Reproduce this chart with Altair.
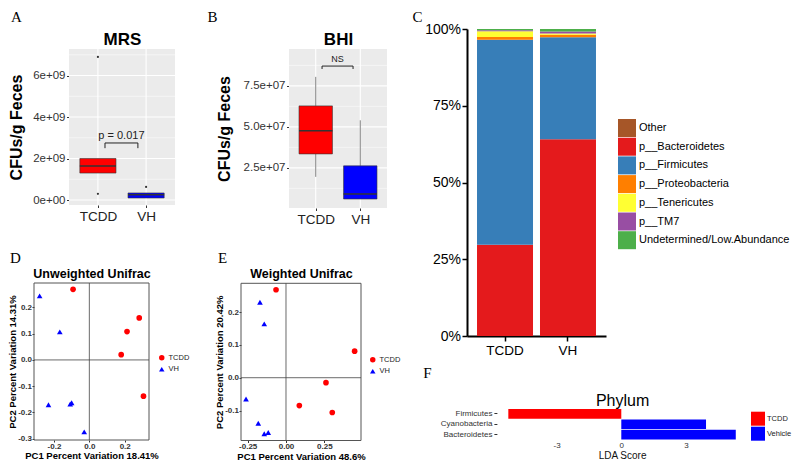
import altair as alt
import pandas as pd

W, H = 784, 452

# ---------------- data ----------------
groups = ["TCDD", "VH"]
group_colors = ["#FF0000", "#0000FF"]

# A: MRS plate counts (CFUs/g feces)
mrs_q1 = [1.30e9, 0.10e9]
mrs_median = [1.64e9, 0.25e9]
mrs_q3 = [2.00e9, 0.34e9]
mrs_whisker_lo = [1.30e9, 0.10e9]
mrs_whisker_hi = [2.00e9, 0.34e9]
mrs_outlier_group = ["TCDD", "TCDD", "VH"]
mrs_outlier_value = [6.90e9, 0.30e9, 0.63e9]
mrs_domain = [-0.24e9, 7.28e9]
mrs_ticks = [0, 2e9, 4e9, 6e9]
mrs_minor = [1e9, 3e9, 5e9, 7e9]
mrs_pvalue = "p =  0.017"
mrs_bracket_x = [1.147, 1.83]
mrs_bracket_y = [2.75e9, 2.5e9]
mrs_label_y = 3.08e9

# B: BHI plate counts
bhi_q1 = [3.35e7, 0.60e7]
bhi_median = [4.76e7, 0.90e7]
bhi_q3 = [6.28e7, 2.62e7]
bhi_whisker_lo = [1.95e7, 0.60e7]
bhi_whisker_hi = [8.05e7, 5.40e7]
bhi_outlier_group = []
bhi_outlier_value = []
bhi_domain = [0.05e7, 9.75e7]
bhi_ticks = [2.5e7, 5.0e7, 7.5e7]
bhi_minor = [1.25e7, 3.75e7, 6.25e7, 8.75e7]
bhi_pvalue = "NS"
bhi_bracket_x = [1.142, 1.838]
bhi_bracket_y = [8.71e7, 8.53e7]
bhi_label_y = 9.14e7

# C: relative abundance (%)
taxa = ["Other", "p__Bacteroidetes", "p__Firmicutes", "p__Proteobacteria",
        "p__Tenericutes", "p__TM7", "Undetermined/Low.Abundance"]
taxa_colors = ["#A65628", "#E41A1C", "#377EB8", "#FF7F00", "#FFFF33", "#984EA3", "#4DAF4A"]
taxa_stack_rank = [6, 0, 1, 2, 3, 4, 5]
tcdd_pct = [0.0, 29.7, 66.8, 0.9, 1.9, 0.3, 0.4]
vh_pct = [0.0, 64.1, 33.2, 0.85, 0.4, 0.6, 0.85]
pct_ticks = [0, 25, 50, 75, 100]

# D: unweighted UniFrac PCoA
d_tcdd_pc1 = [-0.092, 0.282, 0.213, 0.180, 0.306]
d_tcdd_pc2 = [0.269, 0.160, 0.108, 0.020, -0.138]
d_vh_pc1 = [-0.281, -0.167, -0.231, -0.100, -0.108, -0.029]
d_vh_pc2 = [0.244, 0.107, -0.171, -0.163, -0.168, -0.274]
d_xdomain = [-0.3128, 0.3372]
d_ydomain = [-0.305, 0.293]
d_xticks = [-0.2, 0.0, 0.2]
d_yticks = [-0.3, -0.2, -0.1, 0.0, 0.1, 0.2]

# E: weighted UniFrac PCoA
e_tcdd_pc1 = [-0.065, 0.448, 0.261, 0.302, 0.087]
e_tcdd_pc2 = [0.268, 0.081, -0.015, -0.106, -0.085]
e_vh_pc1 = [-0.170, -0.142, -0.261, -0.181, -0.142, -0.116]
e_vh_pc2 = [0.230, 0.164, -0.065, -0.139, -0.171, -0.167]
e_xdomain = [-0.2937, 0.4896]
e_ydomain = [-0.1914, 0.2878]
e_xticks = [-0.25, 0.0, 0.25]
e_yticks = [-0.1, 0.0, 0.1, 0.2]

# F: LEfSe LDA scores
f_taxa = ["Firmicutes", "Cyanobacteria", "Bacteroidetes"]
f_lda = [-5.24, 3.93, 5.31]
f_group = ["TCDD", "Vehicle", "Vehicle"]
f_groups = ["TCDD", "Vehicle"]
f_domain = [-5.77, 5.84]
f_ticks = [-3, 0, 3]

MINUS = "\u2212"


def fmt_expr(spec):
    return f"replace(format(datum.value, '{spec}'), '{MINUS}', '-')"


def group_label_expr():
    return f"datum.value == 1 ? '{groups[0]}' : '{groups[1]}'"


# ---------------- panel builders ----------------
def box_panel(q1, med, q3, wlo, whi, out_g, out_v, ydom, ticks, minor, ylab_expr,
              bx, by, label_y, label_text, label_size, xrange, yrange, ytitle_pad):
    xs = alt.Scale(domain=[0.4, 2.6], range=xrange, nice=False, zero=False)
    ys = alt.Scale(domain=ydom, range=yrange, nice=False, zero=False)
    pos = list(range(1, len(groups) + 1))
    half = 0.375
    box_df = pd.DataFrame({
        "group": groups, "pos": pos,
        "xl": [p - half for p in pos], "xr": [p + half for p in pos],
        "q1": q1, "med": med, "q3": q3, "lo": wlo, "hi": whi,
    })
    xaxis = alt.Axis(orient="bottom", offset=yrange[0] - H, values=pos,
                     labelExpr=group_label_expr(), labelFontSize=13.5, labelColor="#222",
                     tickSize=2.5, tickColor="#333", labelPadding=1.5, domain=False,
                     grid=False, title=None, labelAngle=0)
    yaxis = alt.Axis(orient="left", offset=-xrange[0], values=ticks, labelExpr=ylab_expr,
                     labelFontSize=11.5, labelColor="#333", tickSize=2.5, tickColor="#333",
                     labelPadding=1.5, domain=False, grid=False, title="CFUs/g Feces",
                     titleFontSize=16, titleFontWeight="bold", titleColor="black",
                     titlePadding=ytitle_pad)

    def X(f):
        return alt.X(f, scale=xs, axis=xaxis)

    def Y(f):
        return alt.Y(f, scale=ys, axis=yaxis)

    bg_df = pd.DataFrame({"x1": [0.4], "x2": [2.6], "y1": [ydom[0]], "y2": [ydom[1]]})
    bg = alt.Chart(bg_df).mark_rect(color="#EBEBEB").encode(
        x=X("x1:Q"), x2=alt.X2("x2"), y=Y("y1:Q"), y2=alt.Y2("y2"))
    hmin = alt.Chart(pd.DataFrame({"y": minor, "x1": 0.4, "x2": 2.6})).mark_rule(
        color="white", strokeWidth=0.5).encode(x=X("x1:Q"), x2=alt.X2("x2"), y=Y("y:Q"))
    hmaj = alt.Chart(pd.DataFrame({"y": ticks, "x1": 0.4, "x2": 2.6})).mark_rule(
        color="white", strokeWidth=1.1).encode(x=X("x1:Q"), x2=alt.X2("x2"), y=Y("y:Q"))
    vmaj = alt.Chart(pd.DataFrame({"x": pos, "y1": ydom[0], "y2": ydom[1]})).mark_rule(
        color="white", strokeWidth=1.1).encode(x=X("x:Q"), y=Y("y1:Q"), y2=alt.Y2("y2"))
    wlo_r = alt.Chart(box_df).mark_rule(color="#333", strokeWidth=0.6).encode(
        x=X("pos:Q"), y=Y("lo:Q"), y2=alt.Y2("q1"))
    whi_r = alt.Chart(box_df).mark_rule(color="#333", strokeWidth=0.6).encode(
        x=X("pos:Q"), y=Y("q3:Q"), y2=alt.Y2("hi"))
    boxes = alt.Chart(box_df).mark_rect(stroke="#333", strokeWidth=0.6).encode(
        x=X("xl:Q"), x2=alt.X2("xr"), y=Y("q1:Q"), y2=alt.Y2("q3"),
        color=alt.Color("group:N", scale=alt.Scale(domain=groups, range=group_colors),
                        legend=None))
    meds = alt.Chart(box_df).mark_rule(color="#333", strokeWidth=1.5).encode(
        x=X("xl:Q"), x2=alt.X2("xr"), y=Y("med:Q"))
    layers = [bg, hmin, hmaj, vmaj, wlo_r, whi_r, boxes, meds]
    if out_v:
        out_df = pd.DataFrame({"pos": [groups.index(g) + 1 for g in out_g], "v": out_v})
        layers.append(alt.Chart(out_df).mark_circle(color="#333", size=5, opacity=1).encode(
            x=X("pos:Q"), y=Y("v:Q")))
    br_df = pd.DataFrame({
        "x": [bx[0], bx[0], bx[1]], "x2": [bx[1], bx[0], bx[1]],
        "y": [by[0], by[0], by[0]], "y2": [by[0], by[1], by[1]],
    })
    layers.append(alt.Chart(br_df).mark_rule(color="#222", strokeWidth=1).encode(
        x=X("x:Q"), x2=alt.X2("x2"), y=Y("y:Q"), y2=alt.Y2("y2")))
    lab_df = pd.DataFrame({"x": [sum(bx) / 2], "y": [label_y], "t": [label_text]})
    layers.append(alt.Chart(lab_df).mark_text(fontSize=label_size, color="#222",
                                              baseline="middle").encode(
        x=X("x:Q"), y=Y("y:Q"), text="t:N"))
    return alt.layer(*layers)


def pcoa_panel(tx, ty, vx, vy, xdom, ydom, xticks, yticks, xfmt, yfmt, xtitle, ytitle,
               xrange, yrange, legx, legy):
    xs = alt.Scale(domain=xdom, range=xrange, nice=False, zero=False)
    ys = alt.Scale(domain=ydom, range=yrange, nice=False, zero=False)
    pts = pd.DataFrame({"pc1": tx + vx, "pc2": ty + vy,
                        "group": ["TCDD"] * len(tx) + ["VH"] * len(vx)})
    xaxis = alt.Axis(orient="bottom", offset=yrange[0] - H, values=xticks,
                     labelExpr=fmt_expr(xfmt), labelFontSize=8, labelFontWeight="bold",
                     labelColor="#333", tickSize=2, tickColor="#333", labelPadding=0,
                     domain=False, grid=False, title=xtitle, titleFontSize=9.5,
                     titleFontWeight="bold", titleColor="black", titlePadding=0.5)
    yaxis = alt.Axis(orient="left", offset=-xrange[0], values=yticks,
                     labelExpr=fmt_expr(yfmt), labelFontSize=8, labelFontWeight="bold",
                     labelColor="#333", tickSize=2, tickColor="#333", labelPadding=0.5,
                     domain=False, grid=False, title=ytitle, titleFontSize=9.5,
                     titleFontWeight="bold", titleColor="black", titlePadding=0.5)

    def X(f):
        return alt.X(f, scale=xs, axis=xaxis)

    def Y(f):
        return alt.Y(f, scale=ys, axis=yaxis)

    fr_df = pd.DataFrame({"x1": [xdom[0]], "x2": [xdom[1]], "y1": [ydom[0]], "y2": [ydom[1]]})
    frame = alt.Chart(fr_df).mark_rect(fill="white", fillOpacity=0, stroke="#555",
                                       strokeWidth=1).encode(
        x=X("x1:Q"), x2=alt.X2("x2"), y=Y("y1:Q"), y2=alt.Y2("y2"))
    hz = alt.Chart(pd.DataFrame({"x1": [xdom[0]], "x2": [xdom[1]], "y": [0.0]})).mark_rule(
        color="#444", strokeWidth=0.8).encode(x=X("x1:Q"), x2=alt.X2("x2"), y=Y("y:Q"))
    vt = alt.Chart(pd.DataFrame({"x": [0.0], "y1": [ydom[0]], "y2": [ydom[1]]})).mark_rule(
        color="#444", strokeWidth=0.8).encode(x=X("x:Q"), y=Y("y1:Q"), y2=alt.Y2("y2"))
    leg = alt.Legend(orient="none", legendX=legx, legendY=legy, title=None,
                     labelFontSize=7.5, labelColor="#222", symbolSize=30, rowPadding=2.5,
                     labelOffset=3, padding=0, symbolStrokeWidth=0)
    points = alt.Chart(pts).mark_point(filled=True, size=32, opacity=1).encode(
        x=X("pc1:Q"), y=Y("pc2:Q"),
        color=alt.Color("group:N", scale=alt.Scale(domain=groups, range=group_colors), legend=leg),
        shape=alt.Shape("group:N", scale=alt.Scale(domain=groups, range=["circle", "triangle-up"]),
                        legend=leg))
    return alt.layer(frame, hz, vt, points)


def label_layer(letter, lx, ly, title=None, xrange=None, ytop=None, tsize=12,
                tweight="bold", tpad=1):
    df = pd.DataFrame({"v": [0.0]})
    yaxis = alt.Axis(orient="right", offset=0, title=letter, titleX=lx - W, titleY=ly,
                     titleAngle=0, titleAlign="center", titleBaseline="alphabetic",
                     titleFont="Liberation Serif", titleFontSize=15, titleFontWeight="normal",
                     titleColor="black", labels=False, ticks=False, domain=False, grid=False)
    enc = {"y": alt.Y("v:Q", scale=alt.Scale(domain=[0, 1], range=[ly, ly - 1]), axis=yaxis)}
    if title:
        xaxis = alt.Axis(orient="top", offset=-ytop, title=title, titleFontSize=tsize,
                         titleFontWeight=tweight, titleColor="black", titlePadding=tpad,
                         labels=False, ticks=False, domain=False, grid=False)
        enc["x"] = alt.X("v:Q", scale=alt.Scale(domain=[0, 1], range=xrange), axis=xaxis)
    else:
        enc["x"] = alt.X("v:Q", scale=alt.Scale(domain=[0, 1], range=[lx, lx + 1]), axis=None)
    return alt.Chart(df).mark_point(opacity=0).encode(**enc)


# ---------------- panels ----------------
A = box_panel(mrs_q1, mrs_median, mrs_q3, mrs_whisker_lo, mrs_whisker_hi,
              mrs_outlier_group, mrs_outlier_value, mrs_domain, mrs_ticks, mrs_minor,
              "datum.value == 0 ? '0e+00' : format(datum.value / 1e9, 'd') + 'e+09'",
              mrs_bracket_x, mrs_bracket_y, mrs_label_y, mrs_pvalue, 11,
              [61, 167], [197, 41], 8.5)
A_lab = label_layer("A", 8, 13, "MRS", [61, 167], 41, tsize=17, tweight="bold", tpad=0.5)

B = box_panel(bhi_q1, bhi_median, bhi_q3, bhi_whisker_lo, bhi_whisker_hi,
              bhi_outlier_group, bhi_outlier_value, bhi_domain, bhi_ticks, bhi_minor,
              "format(datum.value / 1e7, '.1f') + 'e+07'",
              bhi_bracket_x, bhi_bracket_y, bhi_label_y, bhi_pvalue, 9,
              [281, 379], [200, 41], 11)
B_lab = label_layer("B", 204, 13, "BHI", [281, 379], 41, tsize=17, tweight="bold", tpad=0.5)

# C stacked bars
c_rows = []
for g, vals in zip(groups, [tcdd_pct, vh_pct]):
    for t, v, r in zip(taxa, vals, taxa_stack_rank):
        c_rows.append({"group": g, "taxon": t, "pct": v, "rank": r})
c_df = pd.DataFrame(c_rows)
c_xs = alt.Scale(type="band", domain=groups, range=[459, 598], paddingInner=0.111,
                 paddingOuter=0.159)
c_ys = alt.Scale(domain=[0, 100], range=[328, 21], nice=False, zero=True)
C = alt.Chart(c_df).mark_bar().encode(
    x=alt.X("group:N", scale=c_xs, sort=groups,
            axis=alt.Axis(orient="bottom", offset=328 - H, domain=True, domainColor="black",
                          domainWidth=2, tickSize=5, tickColor="black", tickWidth=1.5,
                          labelFontSize=13.5, labelColor="black", labelPadding=2,
                          labelAngle=0, title=None, grid=False)),
    y=alt.Y("pct:Q", stack="zero", scale=c_ys,
            axis=alt.Axis(orient="left", offset=-459, values=pct_ticks,
                          labelExpr="datum.value + '%'", domain=True, domainColor="black",
                          domainWidth=2, tickSize=5, tickColor="black", tickWidth=1.5,
                          labelFontSize=14, labelColor="black", labelPadding=1.5,
                          title=None, grid=False)),
    color=alt.Color("taxon:N", scale=alt.Scale(domain=taxa, range=taxa_colors),
                    legend=alt.Legend(orient="none", legendX=610, legendY=111, title=None,
                                      symbolType="square", symbolSize=324,
                                      symbolStrokeWidth=0, labelFontSize=11,
                                      labelColor="black", rowPadding=0.7, labelOffset=3,
                                      padding=0, labelLimit=300)),
    order=alt.Order("rank:Q", sort="ascending"),
)
C_lab = label_layer("C", 409, 13)

D = pcoa_panel(d_tcdd_pc1, d_tcdd_pc2, d_vh_pc1, d_vh_pc2, d_xdomain, d_ydomain,
               d_xticks, d_yticks, ".1f", ".1f", "PC1 Percent Variation 18.41%",
               "PC2 Percent Variation 14.31%", [26, 141], [432, 275], 150, 346)
D_lab = label_layer("D", 7, 254, "Unweighted Unifrac", [26, 141], 275, tsize=12.5,
                    tweight="bold", tpad=2.4)

E = pcoa_panel(e_tcdd_pc1, e_tcdd_pc2, e_vh_pc1, e_vh_pc2, e_xdomain, e_ydomain,
               e_xticks, e_yticks, ".2f", ".1f", "PC1 Percent Variation 48.6%",
               "PC2 Percent Variation 20.42%", [233, 353], [432.5, 275.3], 361, 348)
E_lab = label_layer("E", 214, 254, "Weighted Unifrac", [233, 353], 275.3, tsize=12.5,
                    tweight="bold", tpad=2.7)

f_df = pd.DataFrame({"taxon": f_taxa, "lda": f_lda, "group": f_group})
F = alt.Chart(f_df).mark_bar().encode(
    x=alt.X("lda:Q", stack=None,
            scale=alt.Scale(domain=f_domain, range=[488.9, 739.2], nice=False, zero=False),
            axis=alt.Axis(orient="bottom", offset=431.5 - H, values=f_ticks,
                          labelExpr=fmt_expr("d"), ticks=False, domain=False, grid=False,
                          labelFontSize=8, labelColor="#333", labelPadding=2,
                          title="LDA Score", titleFontSize=10, titleFontWeight="normal",
                          titleColor="#111", titlePadding=1)),
    y=alt.Y("taxon:N", sort=f_taxa,
            scale=alt.Scale(type="band", domain=f_taxa, range=[401, 431.5],
                            paddingInner=0.07, paddingOuter=0),
            axis=alt.Axis(orient="left", offset=-488.9, tickSize=3, tickColor="#333",
                          labelFontSize=8, labelColor="#333", labelPadding=2, domain=False,
                          grid=False, title=None)),
    color=alt.Color("group:N", scale=alt.Scale(domain=f_groups, range=group_colors),
                    legend=alt.Legend(orient="none", legendX=743, legendY=403.7, title=None,
                                      symbolType="square", symbolSize=196,
                                      symbolStrokeWidth=0, labelFontSize=7.5,
                                      labelColor="#222", rowPadding=1, labelOffset=2,
                                      padding=0)),
)
F_lab = label_layer("F", 419, 369, "Phylum", [488.9, 739.2], 401, tsize=16,
                    tweight="normal", tpad=1)

chart = alt.layer(A, A_lab, B, B_lab, C, C_lab, D, D_lab, E, E_lab, F, F_lab).resolve_scale(
    x="independent", y="independent", color="independent", shape="independent"
).properties(
    width=W, height=H, padding=0, autosize=alt.AutoSizeParams(type="none")
).configure(font="Liberation Sans").configure_view(strokeWidth=0)

chart.save("out.html", embed_options={"renderer": "svg", "actions": False})
